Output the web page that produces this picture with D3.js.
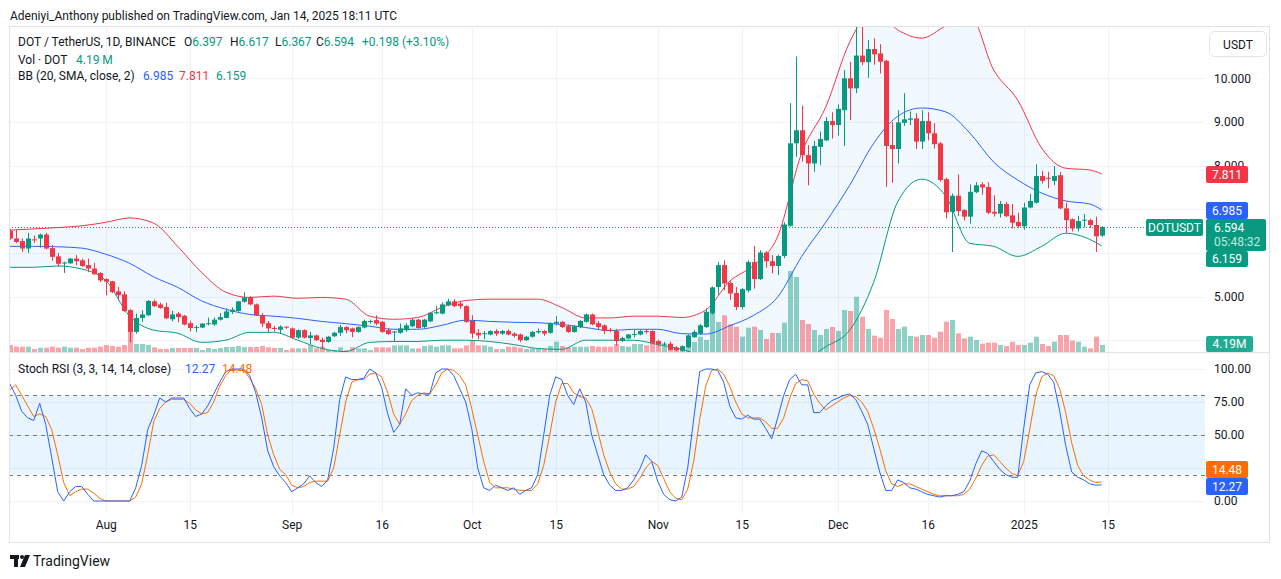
<!DOCTYPE html>
<html><head><meta charset="utf-8">
<script src="https://cdn.jsdelivr.net/npm/d3@7"></script>
<style>
body{margin:0;background:#fff;}
svg{display:block;font-family:Roboto,"Noto Sans",sans-serif;}
</style></head><body>
<svg id="c" width="1281" height="579"></svg>
<script>
// ---------------- DATA ----------------
const startDay = "2024-07-16"; // first candle, one candle per day
const opens = [6.50,6.33,6.27,6.10,6.31,6.33,6.42,6.11,5.92,5.76, 5.76,5.87,5.83,5.72,5.64,5.54,5.40,5.35,5.12,5.05,
 4.69,4.19,4.51,4.57,4.89,4.82,4.76,4.48,4.61,4.56, 4.39,4.28,4.29,4.37,4.36,4.47,4.51,4.65,4.67,4.88,
 4.99,4.82,4.57,4.39,4.28,4.24,4.31,4.27,4.06,4.23, 4.05,4.11,4.01,3.96,4.09,4.17,4.30,4.27,4.19,4.29,
 4.42,4.46,4.42,4.23,4.18,4.17,4.23,4.32,4.47,4.30, 4.43,4.62,4.61,4.80,4.89,4.84,4.78,4.44,4.17,4.14,
 4.13,4.21,4.15,4.21,4.15,4.13,4.00,4.08,4.18,4.21, 4.17,4.38,4.42,4.32,4.19,4.30,4.42,4.59,4.39,4.34,
 4.24,4.21,3.98,4.04,4.12,4.13,4.21,4.21,3.98,3.90, 3.92,3.83,3.76,3.84,4.07,4.15,4.30,4.61,5.22,5.72,
 5.31,5.08,4.76,5.14,5.79,5.40,6.01,5.81,5.70,5.93, 6.62,8.51,8.81,8.24,8.05,8.43,8.58,9.02,8.93,9.27,
 10.00,9.77,10.52,10.37,10.67,10.57,10.40,8.47,8.38,8.98, 9.05,9.08,8.55,9.02,8.74,8.51,7.69,6.94,7.31,6.98,
 6.83,7.39,7.57,7.51,6.94,6.90,7.12,6.86,6.71,6.61, 7.04,7.15,7.76,7.72,7.65,7.78,7.02,6.77,6.56,6.74,
 6.75,6.64,6.397];
const highs = [6.55,6.54,6.33,6.46,6.40,6.44,6.46,6.18,6.00,5.80, 5.88,5.95,5.87,5.87,5.77,5.56,5.42,5.36,5.22,5.12,
 4.72,4.61,4.69,4.92,4.93,4.86,4.86,4.68,4.65,4.58, 4.45,4.34,4.39,4.52,4.52,4.62,4.73,4.75,4.90,5.10,
 5.01,4.84,4.62,4.44,4.33,4.34,4.32,4.29,4.25,4.25, 4.19,4.13,4.06,4.10,4.19,4.35,4.32,4.29,4.32,4.47,
 4.47,4.57,4.44,4.28,4.21,4.38,4.39,4.50,4.49,4.49, 4.64,4.78,4.87,4.95,4.94,4.88,4.80,4.57,4.25,4.21,
 4.23,4.25,4.23,4.25,4.18,4.15,4.10,4.21,4.27,4.23, 4.41,4.55,4.44,4.36,4.34,4.46,4.61,4.61,4.44,4.36,
 4.28,4.26,4.08,4.14,4.23,4.23,4.25,4.23,4.01,3.96, 3.97,3.86,3.88,4.13,4.23,4.37,4.73,5.23,5.79,5.83,
 5.35,5.22,5.19,5.83,6.16,6.06,6.04,5.95,5.96,6.70, 9.43,10.50,9.37,8.47,8.56,8.78,9.11,9.22,9.40,10.19,
 10.38,11.30,11.30,10.88,10.92,10.78,10.42,9.00,9.27,9.66, 9.24,9.20,9.27,9.22,8.97,8.54,7.72,7.36,7.80,7.00,
 7.57,7.62,7.62,7.62,7.32,7.19,7.17,7.12,6.92,7.15, 7.35,8.03,7.88,7.86,7.99,7.85,7.15,6.79,6.85,6.89,
 6.78,6.83,6.617];
const lows = [6.30,6.23,6.02,6.00,6.23,6.12,6.08,5.82,5.68,5.54, 5.75,5.72,5.68,5.56,5.50,5.33,5.03,5.08,4.91,4.65,
 3.95,4.15,4.42,4.56,4.76,4.72,4.48,4.43,4.41,4.34, 4.20,4.18,4.28,4.34,4.33,4.45,4.50,4.60,4.65,4.86,
 4.80,4.56,4.30,4.19,4.20,4.14,4.26,4.04,4.03,4.04, 3.91,3.98,3.81,3.94,4.07,4.10,4.16,4.07,4.17,4.27,
 4.38,4.34,4.17,4.12,3.96,4.15,4.19,4.30,4.26,4.28, 4.41,4.60,4.59,4.78,4.76,4.72,4.40,4.04,4.02,4.02,
 4.11,4.10,4.12,4.11,4.06,3.96,3.98,4.06,4.15,4.10, 4.15,4.34,4.28,4.17,4.17,4.28,4.40,4.34,4.25,4.14,
 4.18,3.88,3.96,4.02,4.06,4.11,4.15,3.92,3.86,3.86, 3.77,3.75,3.74,3.82,4.05,4.12,4.28,4.59,5.05,5.14,
 4.92,4.69,4.71,5.10,5.18,5.38,5.66,5.53,5.49,5.88, 6.60,8.20,8.09,7.55,7.86,8.01,8.56,8.62,8.69,8.45,
 9.04,9.66,10.30,10.01,10.31,10.11,7.51,7.61,8.05,8.91, 8.93,8.38,8.38,8.58,8.39,7.63,6.79,6.02,6.85,6.74,
 6.67,7.37,7.33,6.89,6.83,6.81,6.82,6.56,6.58,6.53, 7.02,7.13,7.59,7.48,7.55,7.00,6.46,6.49,6.49,6.58,
 6.57,6.02,6.367];
const closes = [6.33,6.25,6.10,6.33,6.29,6.42,6.10,5.91,5.75,5.78, 5.87,5.81,5.70,5.64,5.51,5.37,5.34,5.10,5.03,4.67,
 4.19,4.51,4.59,4.90,4.78,4.74,4.50,4.59,4.53,4.36, 4.28,4.30,4.38,4.39,4.47,4.53,4.66,4.70,4.89,4.98,
 4.82,4.57,4.38,4.27,4.26,4.31,4.29,4.06,4.23,4.06, 4.11,4.00,3.96,4.08,4.17,4.30,4.23,4.19,4.30,4.44,
 4.44,4.38,4.19,4.14,4.20,4.27,4.34,4.47,4.28,4.47, 4.63,4.64,4.82,4.89,4.78,4.78,4.42,4.15,4.11,4.16,
 4.21,4.15,4.21,4.13,4.10,4.00,4.08,4.19,4.21,4.15, 4.39,4.42,4.30,4.19,4.32,4.44,4.59,4.36,4.30,4.21,
 4.22,3.98,4.05,4.13,4.14,4.21,4.19,3.94,3.91,3.92, 3.78,3.77,3.86,4.11,4.19,4.34,4.65,5.21,5.72,5.30,
 5.07,4.76,5.17,5.79,5.40,6.01,5.81,5.70,5.93,6.65, 8.51,8.81,8.24,8.05,8.45,8.61,9.02,8.93,9.30,10.00,
 9.77,10.52,10.37,10.67,10.55,10.38,8.45,8.38,8.99,9.06, 9.08,8.55,9.02,8.74,8.49,7.67,6.93,7.31,6.96,6.83,
 7.40,7.55,7.50,6.92,6.90,7.12,6.84,6.69,6.61,7.04, 7.19,7.76,7.65,7.70,7.76,7.02,6.75,6.56,6.73,6.76,
 6.64,6.38,6.594];
// volume in millions of DOT
const volumes = [4.2,3.2,3.2,3.2,1.8,2.6,2.6,3.2,2.6,3.2, 2.6,2.6,1.8,2.6,2.6,3.2,4.2,3.6,3.2,4.2,
 12.2,4.8,4.8,4.2,2.8,1.8,1.8,2.4,2.4,2.4, 2.4,2.4,1.2,2.4,1.8,2.4,3.0,3.0,3.6,3.0,
 3.0,3.0,3.6,2.8,2.4,2.4,1.2,2.2,2.2,2.2, 4.2,2.2,3.2,1.2,1.2,2.8,1.2,2.8,2.2,2.2,
 1.2,2.8,2.8,2.8,4.0,4.0,4.0,2.2,2.2,3.6, 4.0,3.2,4.0,4.0,2.2,2.2,4.0,7.2,4.0,4.0,
 3.2,1.8,1.8,3.2,3.2,2.6,1.8,2.2,2.2,1.8, 3.6,6.2,3.6,2.8,3.2,3.2,3.2,3.6,3.2,3.2,
 3.2,4.8,3.6,3.2,4.8,4.8,4.0,6.2,4.8,3.6, 3.2,2.8,3.6,3.2,6.0,9.2,7.2,23,18,22,
 16.6,15.2,9.2,14.6,15.2,13.2,7.8,11.4,11.4,17.6, 48.6,45,19.2,16.8,13.2,10.2,13.8,15,12.6,25.2,
 24.6,33.2,21.2,13.8,9.8,8.6,25.2,19.8,13.8,15.2, 9.6,9.2,10.2,10.2,8.6,12.2,18.2,19.2,11.2,8.2,
 9.2,7.2,5.0,5.6,5.6,4.2,3.6,6.2,4.2,4.2, 5.6,9.2,4.8,3.6,6.2,10.2,10.2,6.8,6.2,3.2,
 2.2,9.2,4.19];
// Bollinger Bands at these candle indices
const bbIdx = [0,4,8,12,16,20,24,28,32,36, 40,44,48,52,56,60,64,68,72,76, 80,84,88,92,96,100,104,108,112,116,
 120,124,128,132,136,140,144,148,152,156, 160,164,168,172,176,180,182];
const bbUpper = [6.52,6.55,6.58,6.62,6.70,6.80,6.68,6.15,5.55,5.10, 4.98,5.01,4.96,4.98,4.94,4.55,4.48,4.52,4.75,4.91,
 4.94,4.94,4.94,4.75,4.51,4.51,4.55,4.55,4.52,4.69, 5.35,5.72,6.38,8.29,9.34,10.83,11.57,11.11,10.92,11.20,
 11.45,10.19,9.50,8.40,7.94,7.90,7.811];
const bbMid = [6.15,6.15,6.14,6.11,5.97,5.76,5.45,5.21,4.90,4.71, 4.59,4.55,4.50,4.43,4.38,4.32,4.25,4.25,4.34,4.46,
 4.43,4.41,4.40,4.36,4.29,4.22,4.25,4.25,4.15,4.14, 4.33,4.57,4.99,5.92,6.70,7.55,8.51,9.13,9.32,9.23,
 8.75,8.08,7.67,7.37,7.19,7.12,6.985];
const bbLower = [5.67,5.67,5.70,5.63,5.37,4.55,4.23,4.16,3.95,4.00, 4.18,4.18,4.00,3.81,3.74,3.95,3.97,3.97,4.00,4.00,
 3.97,3.90,3.81,3.79,4.00,4.00,4.00,3.90,3.79,3.59, 3.31,3.42,3.60,3.55,3.85,4.23,5.33,7.17,7.69,7.30,
 6.22,6.15,5.92,6.15,6.45,6.31,6.159];
const stochK = [89,80,68,63,61,74,58,33,7,0, 7,11,11,5,0,0,0,0,0,0, 0,10,27,54,65,78,75,78,78,78,
 70,64,66,72,81,90,98,100,100,100, 95,82,63,38,26,19,14,7,10,13, 19,14,11,16,40,77,94,92,92,93,
 100,97,86,66,52,58,85,80,82,81, 81,97,100,100,95,85,75,55,25,10, 8,12,10,8,10,5,8,10,20,50,
 80,94,92,80,73,85,75,50,35,20, 12,8,8,10,16,24,35,30,15,5, 1,0,3,25,62,98,100,100,99,90,
 72,63,62,65,62,62,55,47,63,80, 92,96,88,88,67,67,72,76,78,80, 81,77,68,58,40,22,8,8,16,14,
 10,9,7,5,4,3,4,4,5,7, 15,28,38,36,30,24,20,18,18,55, 88,97,98,96,90,68,42,22,18,16,
 13,12,12.27];
const stochD = [84,88,80,72,64,66,64,54,35,14, 4,7,9,9,6,2,0,0,0,0, 0,3,13,35,60,70,75,77,77,77,
 74,69,66,67,75,87,95,100,99,99, 93,85,73,50,35,24,20,12,10,11, 14,15,15,15,25,50,75,90,92,92,
 96,97,94,82,66,58,66,76,80,82, 81,88,97,100,99,95,88,70,50,30, 14,10,10,10,9,8,8,8,13,27,
 50,75,89,89,82,79,78,70,53,35, 22,13,9,9,11,17,25,30,27,17, 7,2,1,9,30,62,87,99,100,96,
 87,75,66,63,63,63,60,55,55,63, 78,89,92,91,81,74,69,72,75,78, 80,79,75,68,55,40,23,13,11,13,
 13,11,9,7,5,4,4,4,4,5, 9,17,27,34,35,30,25,21,19,30, 54,80,94,97,95,85,67,44,27,19,
 16,14,14.48];
const timeTicks = ["2024-08-01","2024-08-15","2024-09-01","2024-09-16","2024-10-01","2024-10-15","2024-11-01","2024-11-15","2024-12-01","2024-12-16","2025-01-01","2025-01-15"];
const timeLabels = ["Aug","15","Sep","16","Oct","15","Nov","15","Dec","16","2025","15"];
const priceGrid = [4,5,6,7,8,9,10];
const priceLabels = [5,9,10];
const priceLabelsHalfHidden = [4,8];
const stochTicks = [0,25,50,75,100];
const stochLabels = [0,50,75,100];

// ---------------- LAYOUT ----------------
const UP="#089981", DN="#F23645", BLUE="#2962FF", ORANGE="#FF6D00", TXT="#131722", GRID="#f0f3fa", BORDER="#e0e3eb";
const L=9, R=1205, FR=1270, T=26, MB=352, SB=514, B=543;
const svg = d3.select("#c");
const parse = d3.utcParse("%Y-%m-%d");
const d0 = parse(startDay);
const dates = closes.map((_, i) => d3.utcDay.offset(d0, i));
const x = d3.scaleUtc().domain([d0, parse("2025-02-01")]).range([9.7, 1209.7]);
const y = d3.scaleLinear().domain([4, 10]).range([340.2, 78.3]);
const yv = d3.scaleLinear().domain([0, 50]).range([MB, MB - 83.3]);
const ys = d3.scaleLinear().domain([0, 100]).range([501, 369]);

const defs = svg.append("defs");
defs.append("clipPath").attr("id","cm").append("rect").attr("x",L+1).attr("y",T+1).attr("width",R-L-1).attr("height",MB-T-1);
defs.append("clipPath").attr("id","cs").append("rect").attr("x",L+1).attr("y",MB+1).attr("width",R-L-1).attr("height",SB-MB-1);
// visible strip of axis labels partly hidden behind value tags
const hc = defs.append("clipPath").attr("id","ch");
hc.append("rect").attr("x",1200).attr("y",150).attr("width",70).attr("height",16);
hc.append("rect").attr("x",1200).attr("y",320).attr("width",70).attr("height",16);

// grids
const g = svg.append("g");
g.selectAll(".vg").data(timeTicks).enter().append("line")
 .attr("x1",d=>Math.round(x(parse(d)))+0.5).attr("x2",d=>Math.round(x(parse(d)))+0.5)
 .attr("y1",T).attr("y2",SB).attr("stroke",GRID);
g.selectAll(".hg").data(priceGrid).enter().append("line")
 .attr("x1",L).attr("x2",R).attr("y1",d=>Math.round(y(d))+0.5).attr("y2",d=>Math.round(y(d))+0.5).attr("stroke",GRID);
g.selectAll(".sg").data(stochTicks).enter().append("line")
 .attr("x1",L).attr("x2",R).attr("y1",d=>Math.round(ys(d))+0.5).attr("y2",d=>Math.round(ys(d))+0.5).attr("stroke",GRID);

// ---- main pane ----
const m = svg.append("g").attr("clip-path","url(#cm)");
const bb = bbIdx.map((i,k)=>({d:dates[i], u:bbUpper[k], m:bbMid[k], l:bbLower[k]}));
m.append("path").datum(bb).attr("fill","rgba(33,150,243,0.06)")
 .attr("d", d3.area().curve(d3.curveMonotoneX).x(d=>x(d.d)).y0(d=>y(d.l)).y1(d=>y(d.u)));
// volume
m.selectAll(".vol").data(volumes).enter().append("rect")
 .attr("x",(d,i)=>Math.round(x(dates[i]))-2).attr("width",5)
 .attr("y",d=>yv(d)).attr("height",d=>MB-yv(d))
 .attr("fill",(d,i)=>closes[i]>=opens[i]?"rgba(8,153,129,0.45)":"rgba(242,54,69,0.45)");
const bline = key => d3.line().curve(d3.curveMonotoneX).x(d=>x(d.d)).y(d=>y(d[key]));
m.append("path").datum(bb).attr("fill","none").attr("stroke",DN).attr("stroke-width",1).attr("d",bline("u"));
m.append("path").datum(bb).attr("fill","none").attr("stroke",BLUE).attr("stroke-width",1).attr("d",bline("m"));
m.append("path").datum(bb).attr("fill","none").attr("stroke",UP).attr("stroke-width",1).attr("d",bline("l"));
// candles
const cg = m.selectAll(".c").data(closes).enter().append("g");
cg.append("line")
 .attr("x1",(d,i)=>Math.round(x(dates[i]))+0.5).attr("x2",(d,i)=>Math.round(x(dates[i]))+0.5)
 .attr("y1",(d,i)=>y(highs[i])).attr("y2",(d,i)=>y(lows[i]))
 .attr("stroke",(d,i)=>closes[i]>=opens[i]?UP:DN);
cg.append("rect")
 .attr("x",(d,i)=>Math.round(x(dates[i]))-2).attr("width",5)
 .attr("y",(d,i)=>y(Math.max(opens[i],closes[i])))
 .attr("height",(d,i)=>Math.max(1,Math.abs(y(opens[i])-y(closes[i]))))
 .attr("fill",(d,i)=>closes[i]>=opens[i]?UP:DN);
// last price dotted line
const lastY = Math.round(y(closes[closes.length-1]))+0.5;
svg.append("line").attr("x1",L).attr("x2",1146).attr("y1",lastY).attr("y2",lastY)
 .attr("stroke",UP).attr("stroke-dasharray","1,2");

// ---- stoch pane ----
const s = svg.append("g").attr("clip-path","url(#cs)");
s.append("rect").attr("x",L).attr("width",R-L).attr("y",ys(80)).attr("height",ys(20)-ys(80)).attr("fill","rgba(33,150,243,0.1)");
[80,50,20].forEach(v=>s.append("line").attr("x1",L).attr("x2",R).attr("y1",Math.round(ys(v))+0.5).attr("y2",Math.round(ys(v))+0.5)
 .attr("stroke","#787b86").attr("stroke-dasharray","4,4"));
const sl = arr => d3.line().x((d,i)=>x(dates[i])).y(d=>ys(d))(arr);
s.append("path").attr("d",sl(stochD)).attr("fill","none").attr("stroke",ORANGE).attr("stroke-width",1);
s.append("path").attr("d",sl(stochK)).attr("fill","none").attr("stroke",BLUE).attr("stroke-width",1);

// frame & separators
svg.append("rect").attr("x",L+0.5).attr("y",T+0.5).attr("width",FR-L-1).attr("height",B-T-1).attr("fill","none").attr("stroke",BORDER);
svg.append("line").attr("x1",L).attr("x2",FR).attr("y1",MB+0.5).attr("y2",MB+0.5).attr("stroke",BORDER);

// axes
const fmt3 = d3.format(".3f"), fmt2 = d3.format(".2f");
function styleAxis(sel){ sel.select(".domain").remove(); sel.selectAll("text").attr("font-size",12).attr("font-family","Roboto").attr("fill",TXT); }
svg.append("g").attr("transform",`translate(1214,0)`)
 .call(d3.axisRight(y).tickValues(priceLabels).tickSize(0).tickPadding(0).tickFormat(fmt3)).call(styleAxis);
svg.append("g").attr("clip-path","url(#ch)").append("g").attr("transform",`translate(1214,0)`)
 .call(d3.axisRight(y).tickValues(priceLabelsHalfHidden).tickSize(0).tickPadding(0).tickFormat(fmt3)).call(styleAxis);
svg.append("g").attr("transform",`translate(1214,0)`)
 .call(d3.axisRight(ys).tickValues(stochLabels).tickSize(0).tickPadding(0).tickFormat(fmt2)).call(styleAxis);
svg.append("g").attr("transform",`translate(0,520)`)
 .call(d3.axisBottom(x).tickValues(timeTicks.map(parse)).tickSize(0).tickPadding(0).tickFormat((d,i)=>timeLabels[i])).call(styleAxis);

// right side labels
function tag(x0,y0,w,h,fill,txt,tc){
  svg.append("rect").attr("x",x0).attr("y",y0).attr("width",w).attr("height",h).attr("rx",2).attr("fill",fill);
  svg.append("text").attr("x",x0+w/2).attr("y",y0+h/2+4).attr("text-anchor","middle").attr("font-size",12).attr("fill",tc||"#fff").text(txt);
}
tag(1206,166,42,17,DN,fmt3(bbUpper[bbUpper.length-1]));
tag(1206,202,42,17,BLUE,fmt3(bbMid[bbMid.length-1]));
svg.append("rect").attr("x",1206).attr("y",219).attr("width",60).attr("height",32).attr("rx",2).attr("fill",UP);
svg.append("text").attr("x",1214).attr("y",232).attr("font-size",12).attr("fill","#fff").text(fmt3(closes[closes.length-1]));
svg.append("text").attr("x",1214).attr("y",245.5).attr("font-size",12).attr("fill","#bfe9df").text("05:48:32");
tag(1206,251,42,16,UP,fmt3(bbLower[bbLower.length-1]));
tag(1146,219,57,17,UP,"DOTUSDT");
tag(1206,336,47,16,"#22ab94",d3.format(".2f")(volumes[volumes.length-1])+"M");
tag(1206,461,42,17,ORANGE,fmt2(stochD[stochD.length-1]));
tag(1206,478,42,17,BLUE,fmt2(stochK[stochK.length-1]));
svg.append("rect").attr("x",1209.5).attr("y",31.5).attr("width",57).attr("height",25).attr("rx",5).attr("fill","#fff").attr("stroke",BORDER);
svg.append("text").attr("x",1238).attr("y",48.5).attr("text-anchor","middle").attr("font-size",12).attr("fill",TXT).text("USDT");

// header and legends
svg.append("text").attr("x",10).attr("y",19.5).attr("font-size",12).attr("fill",TXT)
 .text("Adeniyi_Anthony published on TradingView.com, Jan 14, 2025 18:11 UTC");
function legend(yb, parts){
  const t = svg.append("text").attr("y",yb).attr("font-size",12);
  parts.forEach(p=>{ const ts=t.append("tspan").attr("fill",p[1]).text(p[0]); if(p[2]!=null) ts.attr("x",p[2]); });
}
const last = closes.length-1;
legend(46,[["DOT / TetherUS, 1D, BINANCE",TXT,18],["O",TXT,184],[fmt3(opens[last]),UP],["H",TXT,230],[fmt3(highs[last]),UP],
 ["L",TXT,275],[fmt3(lows[last]),UP],["C",TXT,316],[fmt3(closes[last]),UP],["+0.198 (+3.10%)",UP,362]]);
legend(63.5,[["Vol · DOT",TXT,18],["4.19 M",UP,76]]);
legend(80,[["BB (20, SMA, close, 2)",TXT,18],[fmt3(bbMid[bbMid.length-1]),BLUE,143],[fmt3(bbUpper[bbUpper.length-1]),DN,179],[fmt3(bbLower[bbLower.length-1]),UP,216]]);
legend(372.5,[["Stoch RSI (3, 3, 14, 14, close)",TXT,18],[fmt2(stochK[last]),BLUE,185],[fmt2(stochD[last]),ORANGE,222]]);

// TradingView logo
const lg = svg.append("g").attr("fill",TXT);
lg.append("rect").attr("x",10).attr("y",555).attr("width",9).attr("height",4);
lg.append("rect").attr("x",14).attr("y",555).attr("width",4).attr("height",12);
lg.append("circle").attr("cx",22).attr("cy",557).attr("r",2);
lg.append("path").attr("d","M25,555 L30,555 L25,567 L20,567 Z");
svg.append("text").attr("x",33).attr("y",566).attr("font-size",14).attr("fill",TXT).text("TradingView");
</script>
</body></html>
